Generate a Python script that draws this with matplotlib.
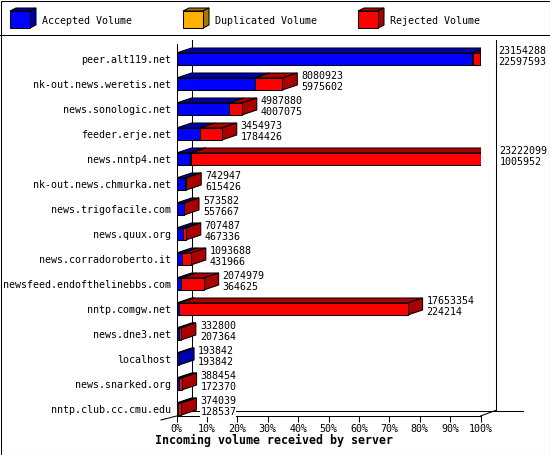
import matplotlib
matplotlib.use("Agg")
import matplotlib.pyplot as plt
from matplotlib.patches import Polygon, Rectangle

# data
hosts = ["peer.alt119.net", "nk-out.news.weretis.net", "news.sonologic.net",
         "feeder.erje.net", "news.nntp4.net", "nk-out.news.chmurka.net",
         "news.trigofacile.com", "news.quux.org", "news.corradoroberto.it",
         "newsfeed.endofthelinebbs.com", "nntp.comgw.net", "news.dne3.net",
         "localhost", "news.snarked.org", "nntp.club.cc.cmu.edu"]
totals = [23154288, 8080923, 4987880, 3454973, 23222099, 742947, 573582,
          707487, 1093688, 2074979, 17653354, 332800, 193842, 388454, 374039]
accepted = [22597593, 5975602, 4007075, 1784426, 1005952, 615426, 557667,
            467336, 431966, 364625, 224214, 207364, 193842, 172370, 128537]
duplicated = [76000, 0, 0, 0, 90000, 0, 0, 0, 0, 0, 0, 0, 0, 0, 0]
rejected = [t - a - d for t, a, d in zip(totals, accepted, duplicated)]

series = ["Accepted Volume", "Duplicated Volume", "Rejected Volume"]
front_cols = ["#0000ff", "#ffb000", "#ff0000"]
dark_cols = ["#0000aa", "#aa7500", "#aa0000"]

W, H = 550, 455
fig = plt.figure(figsize=(W / 100, H / 100), dpi=100)
mono = "DejaVu Sans Mono"

# background layer in pixel coords (frame, legend, 3d walls)
bg = fig.add_axes([0, 0, 1, 1])
bg.set_xlim(0, W)
bg.set_ylim(H, 0)
bg.axis("off")
lw = 0.75
bg.add_patch(Rectangle((0.5, 0.5), W - 1, H - 1, fill=False, ec="black", lw=lw))
bg.plot([0, W], [34.5, 34.5], color="black", lw=lw)

# legend cubes
leg_x = [10, 183, 358]
for k in range(3):
    x0 = leg_x[k]
    bg.add_patch(Polygon([(x0, 11), (x0 + 20, 11), (x0 + 26, 8), (x0 + 6, 8)],
                         fc=dark_cols[k], ec="black", lw=lw))
    bg.add_patch(Polygon([(x0 + 20, 11), (x0 + 26, 8), (x0 + 26, 25), (x0 + 20, 28)],
                         fc=dark_cols[k], ec="black", lw=lw))
    bg.add_patch(Rectangle((x0, 11), 20, 17, fc=front_cols[k], ec="black", lw=lw))
    bg.text(x0 + 32, 24, series[k], family=mono, fontsize=7.2, va="baseline")

# 3d walls / floor
bg.plot([191.5, 191.5], [40, 411], color="black", lw=lw, zorder=0)
bg.plot([495.5, 495.5], [40, 411], color="black", lw=lw, zorder=0)
bg.plot([191.5, 523], [410.5, 410.5], color="black", lw=lw, zorder=0)
bg.plot([480.5, 495.5], [416, 410.5], color="black", lw=lw, zorder=0)
bg.plot([161, 176.5], [420, 416], color="black", lw=lw, zorder=0)
bg.text(274, 444, "Incoming volume received by server", family=mono,
        fontweight="bold", fontsize=8.4, ha="center", va="baseline")

# main axes
x0_px, x1_px = 176.5, 480.5
y_top, y_bot = 44, 416
ax = fig.add_axes([x0_px / W, (H - y_bot) / H, (x1_px - x0_px) / W, (y_bot - y_top) / H])
ax.patch.set_visible(False)
row_px = 25
ax.set_xlim(0, 100)
ax.set_ylim((y_bot - 59) / row_px, (y_top - 59) / row_px)
for s in ["top", "right"]:
    ax.spines[s].set_visible(False)
for s in ["left", "bottom"]:
    ax.spines[s].set_linewidth(lw)

ax.set_xticks(range(0, 101, 10))
ax.set_xticklabels([f"{v}%" for v in range(0, 101, 10)], family=mono, fontsize=7.2)
ax.tick_params(axis="x", length=4, width=lw, pad=1.5)
ax.set_yticks(range(len(hosts)))
ax.set_yticklabels(hosts, family=mono, fontsize=7.2, va="center_baseline")
ax.tick_params(axis="y", length=0, pad=4)

dx = 15 * 100 / (x1_px - x0_px)
dy = 5 / row_px
h = 6 / row_px
vmax = max(totals)

for i in range(len(hosts)):
    vals = [accepted[i], duplicated[i], rejected[i]]
    start = 0.0
    segs = []
    for k, v in enumerate(vals):
        if v <= 0:
            continue
        end = start + v / vmax * 100
        segs.append((start, end, k))
        start = end
    yt, yb = i - h, i + h
    for j, (a, b, k) in enumerate(segs):
        ax.add_patch(Polygon([(a, yt), (b, yt), (b + dx, yt - dy), (a + dx, yt - dy)],
                             fc=dark_cols[k], ec="black", lw=lw, zorder=3))
        if j == len(segs) - 1:
            ax.add_patch(Polygon([(b, yt), (b + dx, yt - dy), (b + dx, yb - dy), (b, yb)],
                                 fc=dark_cols[k], ec="black", lw=lw, zorder=3))
        ax.add_patch(Rectangle((a, yt), b - a, yb - yt, fc=front_cols[k],
                               ec="black", lw=lw, zorder=4))
    xt = start + dx + 4 * 100 / (x1_px - x0_px)
    bb = dict(facecolor="white", edgecolor="none", pad=0)
    ax.text(xt, i - 5 / row_px, f"{totals[i]}", family=mono, fontsize=7.2,
            va="baseline", zorder=5, clip_on=False, bbox=bb)
    ax.text(xt, i + 6 / row_px, f"{accepted[i]}", family=mono, fontsize=7.2,
            va="baseline", zorder=5, clip_on=False, bbox=bb)

fig.savefig("out.png", dpi=100)
